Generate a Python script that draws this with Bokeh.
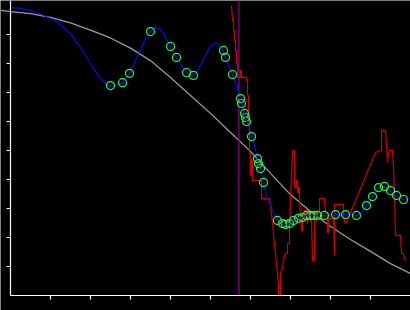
from bokeh.plotting import figure
from bokeh.models import Range1d, LinearAxis, FixedTicker
from bokeh.embed import file_html
from bokeh.resources import INLINE

# ---- data (x: 0..100, y: 0..~102) ----
tick_values = [10, 20, 30, 40, 50, 60, 70, 80, 90]

gray_x = [-2.5, 0, 5, 10, 15, 20, 25, 30, 35, 40, 45, 50, 55, 60, 65, 70, 75, 80, 85, 90, 95, 100]
gray_y = [98.3, 97.9, 97.2, 95.9, 94.0, 91.5, 88.8, 85.3, 81.0, 75.2, 69.0, 62.8, 56.2, 49.7, 42.1,
          34.8, 29.0, 23.8, 19.3, 15.2, 11.0, 7.6]

blue_x = [0, 2.5, 5, 8.25, 12, 15, 17.5, 20, 22.5, 24, 25, 26.5, 28.25, 29.75, 31.25, 32.5, 33.75,
          34.75, 36.25, 37.25, 38.25, 40, 41.5, 42.75, 44, 45, 45.75, 46.75, 47.5, 48.75, 50, 51.25,
          52, 53, 53.75, 55.5, 56.5, 57.5, 58.5, 59, 60, 60.5, 61.25, 62, 62.5, 63.25, 64, 65, 66,
          66.75, 67.5, 68.25, 69.25, 70, 71.75, 73, 75.5, 78.75, 81.25, 83.75, 86.75, 88, 89.25,
          90.5, 92, 93, 93.75, 95.25, 96.5, 98.25, 100]
blue_y = [99.3, 99.0, 98.3, 96.6, 94.1, 90.3, 85.5, 80.0, 74.8, 72.8, 72.1, 72.4, 73.4, 76.6, 81.0,
          84.5, 88.6, 90.7, 92.4, 92.1, 90.3, 85.5, 82.1, 79.3, 76.9, 75.9, 75.9, 77.6, 79.3, 82.8,
          85.9, 87.2, 86.6, 84.5, 82.1, 76.2, 72.1, 67.9, 62.8, 60.3, 56.9, 54.8, 50.0, 46.6, 43.8,
          39.0, 34.5, 31.0, 27.9, 25.9, 24.8, 24.1, 24.1, 24.8, 26.6, 26.9, 27.6, 27.6, 27.9, 27.9,
          27.6, 29.0, 31.0, 33.8, 37.2, 37.6, 37.2, 35.9, 34.1, 33.1, 33.4]

marker_x = [25.0, 28.0, 29.75, 35.0, 40.0, 41.5, 44.0, 45.75, 53.25, 53.75, 55.5, 57.5, 57.75, 58.5,
            58.75, 59.0, 60.25, 61.75, 62.0, 62.5, 63.25, 66.75, 68.0, 68.75, 69.75, 70.75, 72.0,
            73.0, 74.0, 75.0, 75.75, 76.75, 78.5, 81.25, 83.75, 86.5, 89.0, 90.5, 92.0, 93.5, 95.0,
            96.5, 98.25]
marker_y = [72.4, 73.4, 76.6, 91.0, 85.9, 82.1, 76.9, 75.9, 84.5, 82.1, 76.2, 67.9, 66.2, 62.8,
            61.4, 60.0, 54.8, 47.2, 45.5, 43.8, 39.0, 25.9, 24.8, 24.5, 24.8, 25.9, 26.6, 26.9, 27.6,
            27.6, 27.6, 27.6, 27.6, 27.9, 27.9, 27.6, 31.0, 34.1, 37.2, 37.6, 36.2, 34.5, 33.1]

red_x = [55.25, 55.5, 55.75, 55.75, 56.0, 56.0, 56.25, 56.25, 56.5, 56.5, 56.75, 56.75, 57.5, 57.5,
         57.75, 57.75, 59.0, 59.0, 59.25, 59.25, 59.5, 59.5, 59.75, 59.75, 60.0, 60.0, 60.25, 60.25,
         60.5, 60.5, 62.75, 62.75, 64.75, 65.0, 65.25, 65.5, 65.75, 66.0, 66.25, 66.5, 66.75, 67.0,
         67.0, 67.5, 67.5, 68.0, 68.5, 68.75, 69.25, 69.25, 69.75, 69.75, 70.0, 70.25, 70.5, 71.0,
         71.0, 71.5, 71.5, 71.75, 71.75, 72.0, 72.0, 72.25, 72.25, 72.5, 72.75, 73.0, 73.0, 73.5,
         73.5, 74.0, 74.0, 74.25, 74.5, 75.0, 75.0, 75.25, 75.5, 76.0, 76.0, 76.5, 76.5, 77.25,
         77.25, 78.5, 78.75, 79.25, 79.25, 79.5, 79.5, 80.75, 81.0, 81.0, 83.25, 83.25, 83.5, 84.0,
         91.25, 92.5, 92.75, 92.75, 93.75, 94.0, 94.25, 94.5, 94.75, 95.5, 95.75, 96.0, 96.25, 97.5,
         97.75, 98.25, 98.5, 99.0]
red_y = [100.0, 94.8, 94.8, 91.4, 91.4, 87.9, 87.9, 84.5, 84.5, 80.3, 80.3, 75.2, 75.2, 77.6, 77.6,
         75.2, 75.2, 74.1, 74.1, 69.7, 68.3, 62.8, 55.9, 49.0, 49.0, 41.4, 41.4, 46.6, 46.6, 39.7,
         39.7, 33.4, 33.4, 31.0, 28.3, 24.8, 21.4, 17.9, 14.5, 11.0, 7.6, 4.1, 0.0, 0.0, 7.6, 9.7,
         13.8, 14.5, 14.5, 17.9, 17.9, 22.4, 32.8, 42.1, 50.0, 50.0, 37.2, 37.2, 39.7, 39.7, 35.5,
         35.5, 37.2, 37.2, 33.8, 26.9, 22.4, 22.4, 25.9, 25.9, 29.3, 29.3, 26.9, 24.8, 28.3, 28.3,
         25.9, 25.9, 12.1, 12.1, 25.9, 25.9, 28.3, 28.3, 33.4, 33.4, 28.3, 28.3, 21.7, 21.7, 26.6,
         26.6, 13.8, 31.4, 31.4, 27.6, 25.2, 25.2, 49.3, 50.0, 50.0, 56.9, 56.9, 51.7, 45.9, 49.3,
         50.0, 50.0, 44.1, 34.5, 20.7, 20.7, 14.5, 14.5, 12.8, 12.1]

cut_x = [57.1]

# ---- figure ----
p = figure(width=410, height=310, output_backend="svg", toolbar_location=None,
           x_range=Range1d(-2.5, 100), y_range=Range1d(-5.172, 101.724),
           x_axis_location=None, y_axis_location=None, min_border=0)
p.background_fill_color = "black"
p.border_fill_color = "black"
p.outline_line_color = None
p.grid.visible = False

p.line(gray_x, gray_y, line_color="#9a9a9a", line_width=1.3)
p.line(red_x, red_y, line_color="#d00000", line_width=1.2)
p.segment(x0=cut_x, y0=[0], x1=cut_x, y1=[110], line_color="#8c008c", line_width=1.3)
p.line(blue_x, blue_y, line_color="#0010ff", line_width=1.1)
p.scatter(marker_x, marker_y, size=8, fill_color=None, line_color="#22ff22", line_width=1.2)
p.scatter(marker_x, marker_y, size=2, fill_color="#0010ff", line_color=None)

for side, lo, hi in (("below", 0, 100), ("left", 0, 101.724)):
    ax = LinearAxis(fixed_location=0, bounds=(lo, hi), ticker=FixedTicker(ticks=tick_values),
                    major_label_overrides={t: "" for t in tick_values})
    ax.axis_line_color = "white"
    ax.axis_line_width = 1.2
    ax.major_tick_line_color = "white"
    ax.major_tick_line_width = 1.2
    ax.major_tick_out = 4
    ax.major_tick_in = 0
    ax.minor_tick_line_color = None
    ax.major_label_text_font_size = "1px"
    p.add_layout(ax, side)

open("out.html", "w").write(file_html(p, INLINE))
